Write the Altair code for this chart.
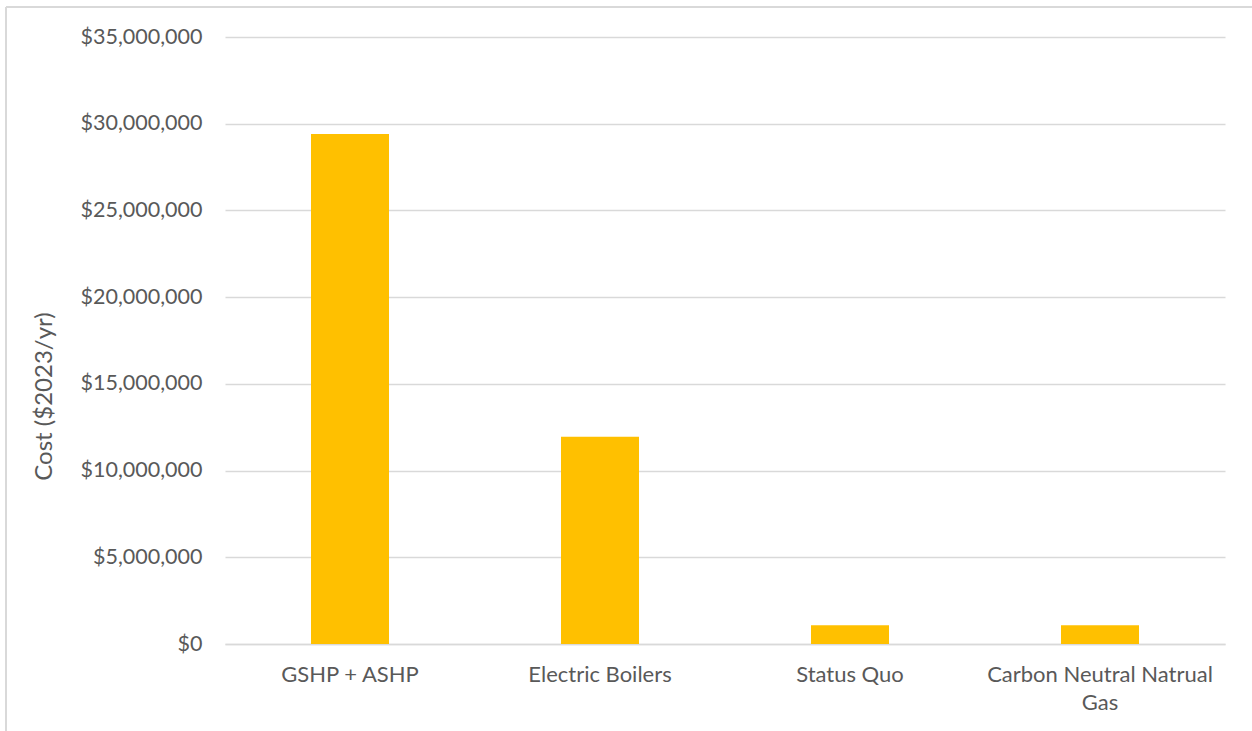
import altair as alt
import pandas as pd

categories = ["GSHP + ASHP", "Electric Boilers", "Status Quo", "Carbon Neutral Natrual Gas"]
costs = [29400000, 11950000, 1080000, 1080000]

df = pd.DataFrame({"option": categories, "cost": costs})

FONT = "Lato"
GRAY = "#595959"
GRID = "#d9d9d9"

bars = alt.Chart(df).mark_bar(color="#FFC000", width=78).encode(
    x=alt.X(
        "option:N",
        sort=categories,
        scale=alt.Scale(paddingInner=0, paddingOuter=0),
        axis=alt.Axis(
            title=None,
            labelAngle=0,
            labelFont=FONT,
            labelFontSize=22,
            labelColor=GRAY,
            labelPadding=20,
            labelLineHeight=28,
            labelLimit=300,
            ticks=False,
            domain=True,
            domainColor=GRID,
            domainWidth=1.5,
            labelExpr="datum.value == 'Carbon Neutral Natrual Gas' ? ['Carbon Neutral Natrual', 'Gas'] : datum.value",
        ),
    ),
    y=alt.Y(
        "cost:Q",
        scale=alt.Scale(domain=[0, 35000000], nice=False),
        axis=alt.Axis(
            title="Cost ($2023/yr)",
            values=[0, 5000000, 10000000, 15000000, 20000000, 25000000, 30000000, 35000000],
            format="$,.0f",
            labelFont=FONT,
            labelFontSize=21.5,
            labelColor=GRAY,
            labelPadding=23,
            ticks=False,
            domain=False,
            grid=True,
            gridColor=GRID,
            gridWidth=1.3,
            titleFont=FONT,
            titleFontSize=24,
            titleFontWeight="normal",
            titleColor=GRAY,
            titleX=-181,
            titleY=359,
            titleBaseline="middle",
            titleAlign="center",
            titleAngle=-90,
        ),
    ),
)

border = alt.Chart(df).mark_rule(color=GRID, strokeWidth=1.5, clip=False).encode(
    x=alt.value(-219), x2=alt.value(1100), y=alt.value(-30)
)
border_left = alt.Chart(df).mark_rule(color=GRID, strokeWidth=1.5, clip=False).encode(
    x=alt.value(-219), y=alt.value(-30), y2=alt.value(800)
)

chart = alt.layer(border, border_left, bars).properties(
    width=1000,
    height=607,
    padding={"left": 225, "top": 37, "right": 27, "bottom": 87},
    autosize=alt.AutoSizeParams(type="none"),
    background="white",
).configure_view(stroke=None)

chart.save("out.html", embed_options={"renderer": "svg", "actions": False})
